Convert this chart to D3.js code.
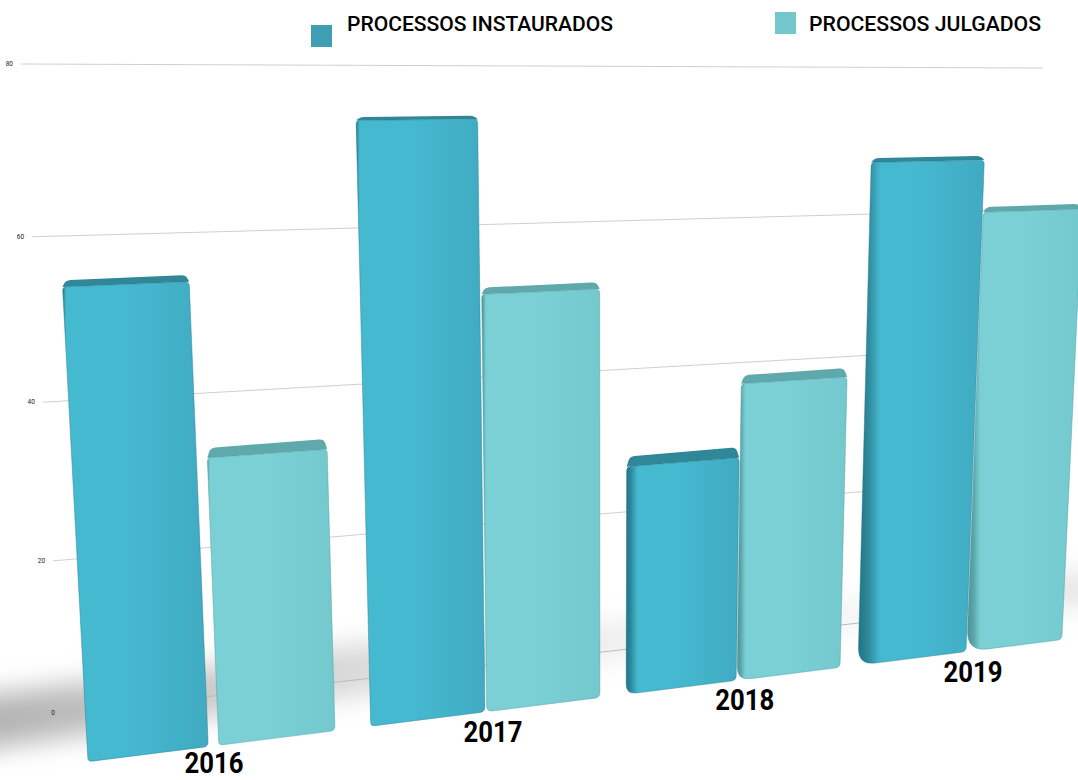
<!DOCTYPE html>
<html><head><meta charset="utf-8">
<script src="https://cdn.jsdelivr.net/npm/d3@7"></script>
<style>html,body{margin:0;padding:0;background:#fff;overflow:hidden}svg{display:block}</style>
</head><body>
<svg id="c" width="1078" height="780"></svg>
<script>
const years = ["2016","2017","2018","2019"];
const seriesNames = ["PROCESSOS INSTAURADOS","PROCESSOS JULGADOS"];
const instaurados = [55.2,73,29.8,67];
const julgados = [34.8,52.3,39.4,60.2];
const gridTicks = [0,20,40,60,80];

const svg = d3.select("#c");
const defs = svg.append("defs");

function homography(p00,p10,p11,p01){
  const dx1=p10[0]-p11[0],dx2=p01[0]-p11[0],sx=p00[0]-p10[0]+p11[0]-p01[0];
  const dy1=p10[1]-p11[1],dy2=p01[1]-p11[1],sy=p00[1]-p10[1]+p11[1]-p01[1];
  const den=dx1*dy2-dx2*dy1;
  const g=(sx*dy2-dx2*sy)/den,h=(dx1*sy-sx*dy1)/den;
  const a=p10[0]-p00[0]+g*p10[0],b=p01[0]-p00[0]+h*p01[0],c=p00[0];
  const d=p10[1]-p00[1]+g*p10[1],e=p01[1]-p00[1]+h*p01[1],f=p00[1];
  return (u,t)=>{const w=g*u+h*t+1;return [(a*u+b*t+c)/w,(d*u+e*t+f)/w];};
}
const vScale = d3.scaleLinear().domain([0,80]).range([0,1]);
const gridPlane = homography([63,713],[1009,606],[1043,68],[21,64]);
const frontPlane = homography([85,762],[1075,638],[1103,59],[47,58]);

const uBand = d3.scaleBand().domain(years).range([0.0025,0.9685]).paddingInner(0.1);
const uSeries = d3.scaleBand().domain(seriesNames).range([0,uBand.bandwidth()]).paddingInner(0.015);
const uLabel = d3.scalePoint().domain(years).range([0.1097,0.8775]);
// perspective stretch of the side faces, per year
const offsetStretch = [0.992,0.975,1.03,1.11];
const widthStretch = [[0.924,0.936],[0.974,1.009],[1.036,1.012],[1.118,1.027]];

// floor shadow
const sg = defs.append("linearGradient").attr("id","shadowGrad").attr("gradientUnits","userSpaceOnUse")
  .attr("x1",-40).attr("x2",1078).attr("y1",0).attr("y2",0);
[[0,"#9c9c9c",.8],[.2,"#a8a8a8",.65],[.4,"#bbbbbb",.5],[.62,"#cccccc",.3],[.85,"#d4d4d4",.25],[1,"#c0c0c0",.45]]
  .forEach(s=>sg.append("stop").attr("offset",s[0]).attr("stop-color",s[1]).attr("stop-opacity",s[2]));
const blur = defs.append("filter").attr("id","blur").attr("x","-20%").attr("y","-60%").attr("width","140%").attr("height","220%");
blur.append("feGaussianBlur").attr("stdDeviation",13);
const shadowPts = [];
[-0.2,0.1,0.3,0.6,1.15].forEach((u,i)=>shadowPts.push(gridPlane(u,vScale([3,4,5,4,4][i]))));
[1.15,0.6,0.3,0.1,-0.2].forEach((u,i)=>shadowPts.push(gridPlane(u,vScale([-1,-1,-2,-3,-4][i]))));
svg.append("path").attr("d",d3.line()(shadowPts)+"Z").attr("fill","url(#shadowGrad)").attr("filter","url(#blur)");

// grid
const grid = svg.append("g");
gridTicks.forEach(v=>{
  const a=gridPlane(0,vScale(v)),b=gridPlane(1,vScale(v));
  grid.append("line").attr("x1",a[0]).attr("y1",a[1]).attr("x2",b[0]).attr("y2",b[1])
    .attr("stroke",v===0?"#b5bcc2":"#cfcfcf").attr("stroke-width",1);
  grid.append("text").attr("x",a[0]-8).attr("y",a[1]+2).attr("text-anchor","end")
    .attr("font-family","Roboto").attr("font-size",6.5).attr("fill","#222").text(v);
});

function roundedPoly(pts,radii){
  const n=pts.length;let d="";
  pts.forEach((p,i)=>{
    const prev=pts[(i-1+n)%n],next=pts[(i+1)%n],r=radii[i];
    const l1=Math.hypot(prev[0]-p[0],prev[1]-p[1]),l2=Math.hypot(next[0]-p[0],next[1]-p[1]);
    const a=[p[0]+(prev[0]-p[0])*r/l1,p[1]+(prev[1]-p[1])*r/l1];
    const b=[p[0]+(next[0]-p[0])*r/l2,p[1]+(next[1]-p[1])*r/l2];
    d+=(i?"L":"M")+a[0]+","+a[1]+"Q"+p[0]+","+p[1]+" "+b[0]+","+b[1];
  });
  return d+"Z";
}

const palette = {
  [seriesNames[0]]:{edge:"#1f7485",dark:"#2f8b9d",main:"#45b9d0",right:"#40abc2",cap:"#2f8798"},
  [seriesNames[1]]:{edge:"#47959a",dark:"#5aa5a8",main:"#7ad0d5",right:"#74c9ce",cap:"#5fa9ac"}
};
const rows=[];
years.forEach((y,i)=>{
  rows.push({year:y,s:seriesNames[1],v:julgados[i],i,j:1});
  rows.push({year:y,s:seriesNames[0],v:instaurados[i],i,j:0});
});
const bars = svg.append("g");
rows.forEach((r,k)=>{
  const u0=uBand(r.year)+uSeries(r.s)*offsetStretch[r.i];
  const u1=u0+uSeries.bandwidth()*widthStretch[r.i][r.j],t=vScale(r.v);
  const bl=frontPlane(u0,0),br=frontPlane(u1,0),tr=frontPlane(u1,t),tl=frontPlane(u0,t);
  const c=palette[r.s];
  const band = Math.max(0.012,(u0-0.2)*0.3)*(r.j?0.5:1);
  const id="f"+k;
  const g=defs.append("linearGradient").attr("id",id).attr("x1",0).attr("x2",1).attr("y1",0).attr("y2",0);
  [[0,c.edge],[band*.5,c.dark],[band+.012,c.main],[.45,c.main],[1,c.right]]
    .forEach(s=>g.append("stop").attr("offset",s[0]).attr("stop-color",s[1]));
  const depth=3+Math.max(0,(tl[1]-100))*0.02;
  const cap=[[tl[0]+3,tl[1]-depth],[tr[0]-3,tr[1]-depth],tr,tl];
  bars.append("path").attr("d",roundedPoly(cap,[5,5,0,0])).attr("fill",c.cap);
  const rBL=4+Math.max(0,(u0-0.3))*30;
  bars.append("path").attr("d",roundedPoly([tl,tr,br,bl],[4,4,5,rBL]))
    .attr("fill","url(#"+id+")").attr("stroke",c.edge).attr("stroke-width",.6).attr("stroke-opacity",.7);
});

// year labels
years.forEach(y=>{
  const p=frontPlane(uLabel(y),0);
  svg.append("text").attr("x",p[0]).attr("y",Math.min(p[1]+31,773)).attr("text-anchor","middle")
    .attr("font-family","Roboto").attr("font-weight",700).attr("font-size",29)
    .attr("textLength",59).attr("lengthAdjust","spacingAndGlyphs").attr("fill","#000").text(y);
});

// legend
const legendX = d3.scaleOrdinal().domain(seriesNames).range([311,775]);
const legendY = d3.scaleOrdinal().domain(seriesNames).range([25,12]);
const textX = d3.scaleOrdinal().domain(seriesNames).range([347,809]);
const textW = d3.scaleOrdinal().domain(seriesNames).range([266,232]);
const swatch = d3.scaleOrdinal().domain(seriesNames).range(["#3f9fb2","#72c8cc"]);
seriesNames.forEach(s=>{
  svg.append("rect").attr("x",legendX(s)).attr("y",legendY(s)).attr("width",21).attr("height",22).attr("fill",swatch(s));
  svg.append("text").attr("x",textX(s)).attr("y",31).attr("font-family","Roboto").attr("font-weight",500).attr("font-size",20)
    .attr("textLength",textW(s)).attr("lengthAdjust","spacingAndGlyphs").attr("fill","#000").text(s);
});
</script>
</body></html>
